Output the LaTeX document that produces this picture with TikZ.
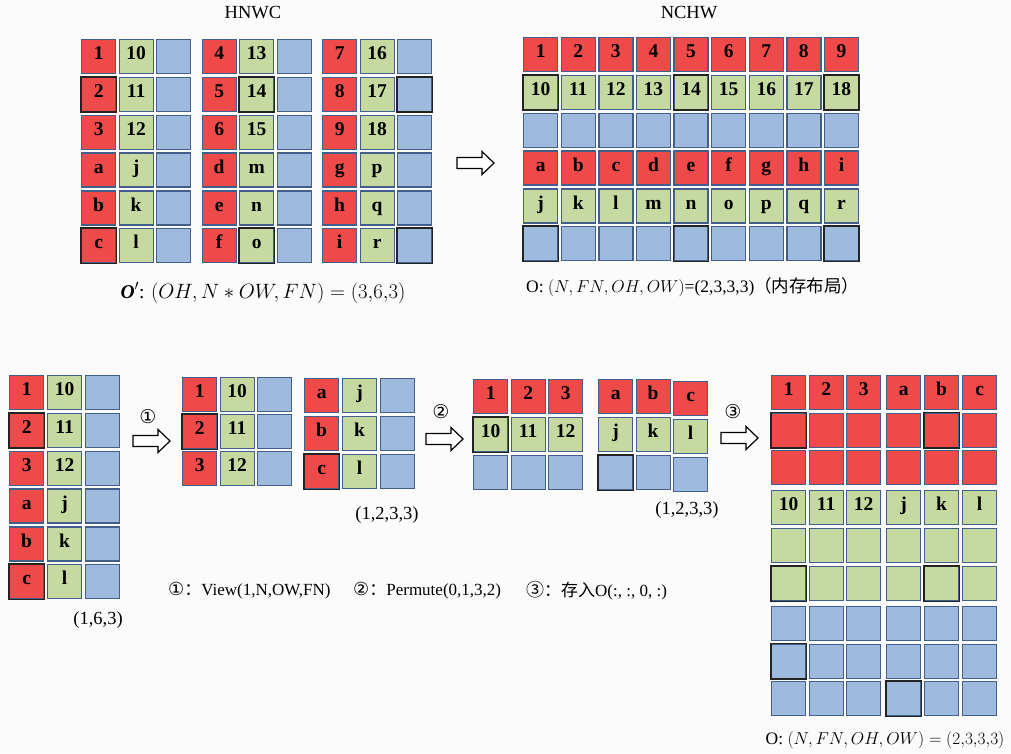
\documentclass[tikz,border=0pt]{standalone}
\usepackage{fontspec}
\setmainfont{Liberation Serif}
\newfontfamily\cjk{Noto Sans CJK SC}
\newfontfamily\symf{DejaVu Sans}
\definecolor{cred}{RGB}{238,74,74}
\definecolor{cgreen}{RGB}{197,217,160}
\definecolor{cblue}{RGB}{158,186,220}
\definecolor{cedge}{RGB}{65,95,138}
\definecolor{cdark}{RGB}{35,35,35}
\definecolor{cbg}{RGB}{251,251,251}
\tikzset{
  cellfont/.style={font=\fontsize{19.5}{19.5}\selectfont\bfseries, text height=0.66em, text depth=0pt},
  cell/.style={draw=cedge, line width=1.3pt, minimum size=34pt, inner sep=0pt,
    anchor=north west, cellfont},
  R/.style={cell, fill=cred},
  G/.style={cell, fill=cgreen},
  B/.style={cell, fill=cblue},
  hl/.style={draw=cdark, line width=1.4pt},
  lbl/.style={inner sep=0pt, font=\fontsize{18.5}{18.5}\selectfont},
  legend/.style={inner sep=0pt, anchor=west, font=\fontsize{17}{17}\selectfont},
  circ/.style={inner sep=0pt, font=\symf\fontsize{19}{19}\selectfont},
  blockarrow/.pic={\draw[line width=1.2pt, fill=white, line join=miter]
    (0,-5.5) -- (25,-5.5) -- (25,-11.5) -- (37,0) -- (25,11.5) -- (25,5.5) -- (0,5.5) -- cycle;},
}
\begin{document}
\begin{tikzpicture}[x=1pt, y=-1pt]
\useasboundingbox (0,0) rectangle (1011,753);
\fill[cbg] (0,0) rectangle (1011,753);

% ---------------- HNWC ----------------
\node[lbl] (tHNWC) at (253,13) {HNWC};
\foreach \g in {0,1,2}{
  \foreach \r in {0,...,5}{
    \node[B] (hb-\g-\r) at ({81+120.5*\g+75},{39+37.8*\r}) {};
  }
}
\foreach \t [count=\r from 0] in {1,2,3,a,b,c} \node[R] (hr-0-\r) at (81,{39+37.8*\r}) {\t};
\foreach \t [count=\r from 0] in {10,11,12,j,k,l} \node[G] (hg-0-\r) at (118.5,{39+37.8*\r}) {\t};
\foreach \t [count=\r from 0] in {4,5,6,d,e,f} \node[R] (hr-1-\r) at (201.5,{39+37.8*\r}) {\t};
\foreach \t [count=\r from 0] in {13,14,15,m,n,o} \node[G] (hg-1-\r) at (239,{39+37.8*\r}) {\t};
\foreach \t [count=\r from 0] in {7,8,9,g,h,i} \node[R] (hr-2-\r) at (322,{39+37.8*\r}) {\t};
\foreach \t [count=\r from 0] in {16,17,18,p,q,r} \node[G] (hg-2-\r) at (359.5,{39+37.8*\r}) {\t};
\foreach \n in {hr-0-1,hr-0-5,hg-1-1,hg-1-5,hb-2-1,hb-2-5}
  \draw[hl] (\n.north west) rectangle (\n.south east);
\node[lbl, font=\fontsize{19.5}{19.5}\selectfont] (lHNWC) at (263,293) {{\bfseries\itshape O}$'$: $(OH,N*OW,FN)=(3{,}6{,}3)$};

% ---------------- NCHW ----------------
\node[lbl] (tNCHW) at (689,13) {NCHW};
\foreach \t [count=\c from 0] in {1,...,9} \node[R] (n1-\c) at ({523+37.6*\c},37) {\t};
\foreach \t [count=\c from 0] in {10,...,18} \node[G] (n2-\c) at ({523+37.6*\c},74.8) {\t};
\foreach \c in {0,...,8} \node[B] (n3-\c) at ({523+37.6*\c},112.6) {};
\foreach \t [count=\c from 0] in {a,...,i} \node[R] (n4-\c) at ({523+37.6*\c},150.4) {\t};
\foreach \t [count=\c from 0] in {j,...,r} \node[G] (n5-\c) at ({523+37.6*\c},188.2) {\t};
\foreach \c in {0,...,8} \node[B] (n6-\c) at ({523+37.6*\c},226) {};
\foreach \n in {n2-0,n2-4,n2-8,n6-0,n6-4,n6-8}
  \draw[hl] (\n.north west) rectangle (\n.south east);
\node[lbl, anchor=west, font=\fontsize{17.5}{17.5}\selectfont] (lNCHW) at (526,287) {O: $(N,FN,OH,OW)$=(2,3,3,3){\cjk （内存布局）}};
\pic at (457,163) {blockarrow};

% ---------------- bottom: (1,6,3) ----------------
\foreach \t [count=\r from 0] in {1,2,3,a,b,c} \node[R] (ar-\r) at (9,{375+37.8*\r}) {\t};
\foreach \t [count=\r from 0] in {10,11,12,j,k,l} \node[G] (ag-\r) at (47,{375+37.8*\r}) {\t};
\foreach \r in {0,...,5} \node[B] (ab-\r) at (85,{375+37.8*\r}) {};
\foreach \n in {ar-1,ar-5} \draw[hl] (\n.north west) rectangle (\n.south east);
\node[lbl] (l163) at (98,620) {(1,6,3)};

\pic at (133,441) {blockarrow};
\node[circ] (c1) at (148,417) {①};

% ---------------- (1,2,3,3) after view ----------------
\foreach \t [count=\r from 0] in {1,2,3} \node[R] (br-\r) at (182,{377+37*\r}) {\t};
\foreach \t [count=\r from 0] in {10,11,12} \node[G] (bg-\r) at (219.5,{377+37*\r}) {\t};
\foreach \r in {0,1,2} \node[B] (bb-\r) at (257,{377+37*\r}) {};
\foreach \t [count=\r from 0] in {a,b,c} \node[R] (cr-\r) at (304,{378+38*\r}) {\t};
\foreach \t [count=\r from 0] in {j,k,l} \node[G] (cg-\r) at (342,{378+38*\r}) {\t};
\foreach \r in {0,1,2} \node[B] (cb-\r) at (380,{378+38*\r}) {};
\foreach \n in {br-1,cr-2} \draw[hl] (\n.north west) rectangle (\n.south east);
\node[lbl] (l1233a) at (387,515) {(1,2,3,3)};

\pic at (426,439) {blockarrow};
\node[circ] (c2) at (441,412) {②};

% ---------------- (1,2,3,3) after permute ----------------
\foreach \t [count=\c from 0] in {1,2,3} \node[R] (dr-\c) at ({473+37.5*\c},379) {\t};
\foreach \t [count=\c from 0] in {10,11,12} \node[G] (dg-\c) at ({473+37.5*\c},417) {\t};
\foreach \c in {0,1,2} \node[B] (db-\c) at ({473+37.5*\c},455) {};
\foreach \t [count=\c from 0] in {a,b} \node[R] (er-\c) at ({598+37.5*\c},379) {\t};
\foreach \t [count=\c from 0] in {j,k} \node[G] (eg-\c) at ({598+37.5*\c},417) {\t};
\foreach \c in {0,1} \node[B] (eb-\c) at ({598+37.5*\c},455) {};
\node[R] (er-2) at (673,381) {c};
\node[G] (eg-2) at (673,419) {l};
\node[B] (eb-2) at (673,457) {};
\foreach \n in {dg-0,eb-0} \draw[hl] (\n.north west) rectangle (\n.south east);
\node[lbl] (l1233b) at (687,510) {(1,2,3,3)};

\pic at (721,438) {blockarrow};
\node[circ] (c3) at (733,412) {③};

% ---------------- final O ----------------
\foreach \x [count=\c from 0] in {771,808.5,846,886,924,962}{
  \foreach \y [count=\r from 0] in {375,412.5,450}{
    \node[R] (fr-\r-\c) at (\x,\y) {};
  }
  \foreach \y [count=\r from 0] in {490,528,566}{
    \node[G] (fg-\r-\c) at (\x,\y) {};
  }
  \foreach \y [count=\r from 0] in {606,643.5,681}{
    \node[B] (fb-\r-\c) at (\x,\y) {};
  }
}
\foreach \t [count=\c from 0] in {1,2,3,a,b,c} \node[cellfont, inner sep=0pt] (ft-\c) at (fr-0-\c) {\t};
\foreach \t [count=\c from 0] in {10,11,12,j,k,l} \node[cellfont, inner sep=0pt] (gt-\c) at (fg-0-\c) {\t};
\foreach \n in {fr-1-0,fr-1-4,fg-2-0,fg-2-4,fb-1-0,fb-2-3}
  \draw[hl] (\n.north west) rectangle (\n.south east);
\node[lbl, font=\fontsize{17.5}{17.5}\selectfont] (lO) at (885,740) {O: $(N,FN,OH,OW)=(2{,}3{,}3{,}3)$};

% ---------------- legend ----------------
\node[legend] (lg1) at (168,591) {{\symf\fontsize{18}{18}\selectfont ①}{\cjk ：}View(1,N,OW,FN)};
\node[legend] (lg2) at (353,591) {{\symf\fontsize{18}{18}\selectfont ②}{\cjk ：}Permute(0,1,3,2)};
\node[legend] (lg3) at (526,591) {{\cjk\fontsize{18}{18}\selectfont ③}{\cjk ：存入}O(:, :, 0, :)};
\end{tikzpicture}
\end{document}
